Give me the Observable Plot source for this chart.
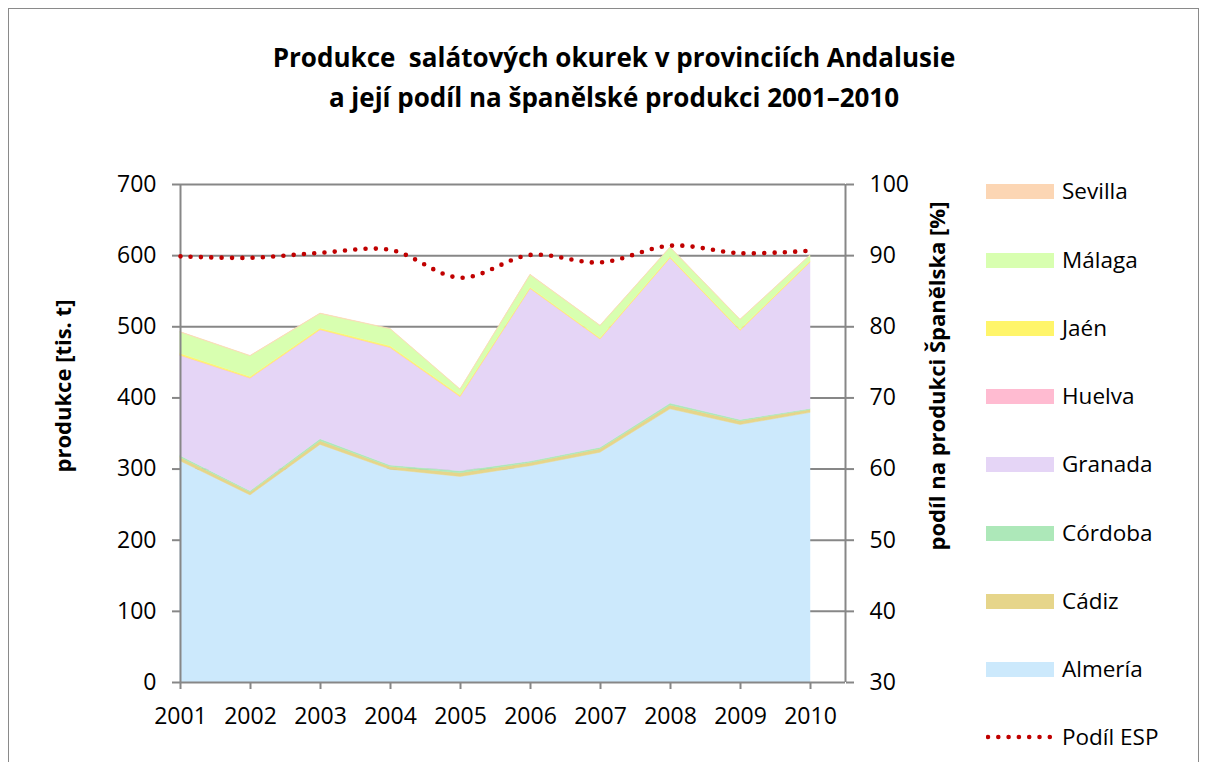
<!DOCTYPE html>
<html><head><meta charset="utf-8">
<script src="https://cdn.jsdelivr.net/npm/d3@7"></script>
<script src="https://cdn.jsdelivr.net/npm/@observablehq/plot@0.6"></script>
<style>
body{margin:0;background:#fff;font-family:"Open Sans",sans-serif;color:#000}
#wrap{position:relative;width:1207px;height:762px;overflow:hidden;background:#fff}
#border{position:absolute;left:8px;top:8px;width:1191px;height:770px;border:1.5px solid #8a8a8a;box-sizing:border-box}
#chart{position:absolute;left:0;top:0}
#title{position:absolute;left:0;width:1228px;top:37px;text-align:center;font-weight:700;font-size:26px;line-height:40px}
.ytitle{position:absolute;font-weight:700;font-size:22px;white-space:nowrap;transform:translate(-50%,-50%) rotate(-90deg)}
#legend{position:absolute;left:0;top:0}
.li{position:absolute;left:986px;height:30px;font-size:22.5px;line-height:30px;white-space:nowrap}
.sw{position:absolute;left:0;top:8px;width:68px;height:15px}
.lt{position:absolute;left:76px;top:0}
</style>
</head><body>
<div id="wrap">
  <div id="border"></div>
  <div id="chart"></div>
  <div id="title">Produkce&nbsp; salátových okurek v provinciích Andalusie<br>a její podíl na španělské produkci 2001–2010</div>
  <div class="ytitle" style="left:62px;top:386px">produkce [tis. t]</div>
  <div class="ytitle" style="left:936px;top:376px">podíl na produkci Španělska [%]</div>
  <div id="legend"></div>
</div>
<script>
const years = [2001, 2002, 2003, 2004, 2005, 2006, 2007, 2008, 2009, 2010];
const provinces = ["Almería", "Cádiz", "Córdoba", "Granada", "Huelva", "Jaén", "Málaga", "Sevilla"];
const almeria = [311, 263, 334, 299, 289, 304, 323, 384, 362, 379];
const cadiz   = [5, 4, 5, 4, 5, 4.5, 5, 5.5, 5, 4];
const cordoba = [2.5, 2, 3, 2, 3, 2, 2, 2.5, 2, 1.5];
const granada = [140.5, 158, 153, 165, 104, 242.5, 152, 204, 125, 205.5];
const huelva  = [0.5, 0.5, 0.5, 0.5, 0.5, 0.5, 0.5, 0.5, 0.5, 0.5];
const jaen    = [2.5, 2, 2, 2, 2, 1.5, 1.5, 1.5, 1.5, 1.5];
const malaga  = [30, 29, 20.5, 24, 8, 17.6, 17, 13, 13.5, 8];
const sevilla = [0.5, 0.5, 0.5, 0.5, 0.5, 0.5, 0.5, 0.5, 0.5, 0.5];
const podilESP = [89.9, 89.7, 90.4, 90.8, 86.9, 90.1, 89.05, 91.4, 90.35, 90.7];
const leftTicks = [0, 100, 200, 300, 400, 500, 600, 700];
const rightTicks = [30, 40, 50, 60, 70, 80, 90, 100];
const colors = ["#CCE9FC", "#E6D58A", "#ADE8B9", "#E5D5F6", "#FFBBD1", "#FFF56A", "#D8FFB0", "#FCD6B4"];

const series = [almeria, cadiz, cordoba, granada, huelva, jaen, malaga, sevilla];
const stackData = [];
provinces.forEach((p, i) => years.forEach((y, j) => stackData.push({province: p, year: y, value: series[i][j]})));
const lineData = years.map((y, j) => ({year: y, share: podilESP[j]}));
const toLeft = p => (p - 30) * 10;

const gray = "#878787";
const chart = Plot.plot({
  width: 1207, height: 762,
  marginLeft: 180, marginRight: 362, marginTop: 184, marginBottom: 80,
  style: {fontFamily: '"Open Sans", sans-serif', fontSize: "23px", color: "#000", background: "transparent", overflow: "visible"},
  x: {domain: [2001, 2010.5], axis: null},
  y: {domain: [0, 700], axis: null},
  color: {domain: provinces, range: colors},
  marks: [
    Plot.ruleY(leftTicks.slice(1), {stroke: gray, strokeWidth: 2}),
    Plot.areaY(stackData, {x: "year", y: "value", fill: "province", stroke: "province", strokeWidth: 0.5}),
    Plot.ruleX([2001], {y1: 0, y2: 700, stroke: gray, strokeWidth: 2}),
    Plot.ruleX([2010.5], {y1: 0, y2: 700, stroke: gray, strokeWidth: 2}),
    Plot.ruleY([0], {stroke: gray, strokeWidth: 2}),
    Plot.axisY({anchor: "left", ticks: leftTicks, tickSize: 8, tickPadding: 16, stroke: gray, strokeWidth: 2, fill: "#000", label: null, fontSize: 23}),
    Plot.axisY({anchor: "right", ticks: rightTicks.map(toLeft), tickFormat: d => String(d / 10 + 30), tickSize: 8, tickPadding: 16, stroke: gray, strokeWidth: 2, fill: "#000", label: null, fontSize: 23}),
    Plot.axisX({ticks: years, tickFormat: d => String(d), tickSize: 7, tickPadding: 18, stroke: gray, strokeWidth: 2, fill: "#000", label: null, fontSize: 23}),
    Plot.line(lineData, {x: "year", y: d => toLeft(d.share), stroke: "#C00000", strokeWidth: 4.6, strokeDasharray: "0 10.3", strokeLinecap: "round", curve: "catmull-rom"})
  ]
});
document.getElementById("chart").appendChild(chart);

const legend = document.getElementById("legend");
const rowsY = [191, 260, 328, 396, 464, 533, 601, 669];
const revProv = provinces.slice().reverse();
const revCol = colors.slice().reverse();
revProv.forEach((p, i) => {
  const d = document.createElement("div");
  d.className = "li";
  d.style.top = (rowsY[i] - 15) + "px";
  d.innerHTML = `<div class="sw" style="background:${revCol[i]}"></div><div class="lt">${p}</div>`;
  legend.appendChild(d);
});
const ld = document.createElement("div");
ld.className = "li";
ld.style.top = (737 - 15) + "px";
ld.innerHTML = `<svg width="70" height="30" style="position:absolute;left:0;top:0"><line x1="2" x2="68" y1="15" y2="15" stroke="#C00000" stroke-width="4.6" stroke-dasharray="0 10.3" stroke-linecap="round"/></svg><div class="lt">Podíl ESP</div>`;
legend.appendChild(ld);
</script>
</body></html>
